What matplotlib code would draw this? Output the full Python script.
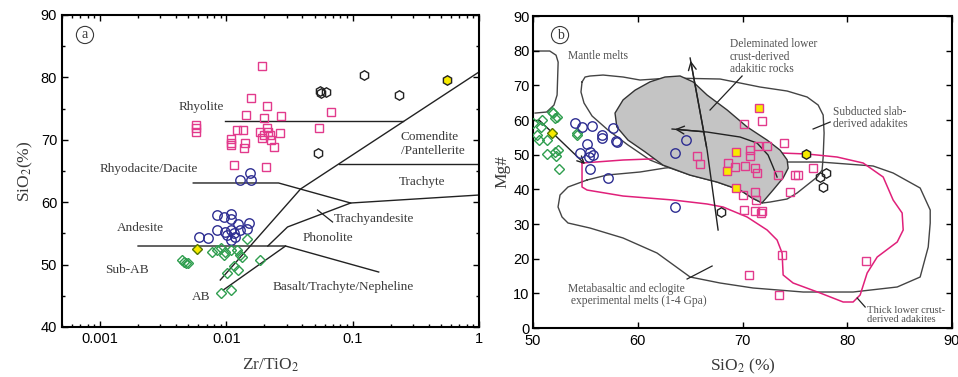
import numpy as np
import matplotlib
matplotlib.use('Agg')
import matplotlib.pyplot as plt

plt.rcParams['font.family'] = ['Liberation Sans', 'DejaVu Sans']
plt.rcParams['mathtext.fontset'] = 'stix'

# ---------------- Panel a data ----------------
a_sq_x = [0.019, 0.0158, 0.0211, 0.0144, 0.0197, 0.0273, 0.00578, 0.00578, 0.00578, 0.0122, 0.0136,
          0.0183, 0.0211, 0.0215, 0.0223, 0.0200, 0.0268, 0.0190, 0.0227, 0.0108, 0.0108, 0.0108,
          0.0141, 0.0139, 0.0239, 0.0114, 0.0207, 0.0668, 0.0537]
a_sq_y = [81.8, 76.7, 75.4, 74.0, 73.5, 73.8, 72.4, 71.9, 71.25, 71.6, 71.6, 71.25, 71.9, 71.25, 70.8,
          70.8, 71.1, 70.3, 70.0, 70.1, 69.5, 69.2, 69.5, 68.7, 68.8, 66.0, 65.6, 74.5, 71.9]
a_ci_x = [0.0155, 0.0129, 0.0158, 0.0085, 0.0095, 0.0108, 0.0108, 0.0124, 0.0152, 0.0146, 0.0085,
          0.0098, 0.0108, 0.0114, 0.0102, 0.0118, 0.0109, 0.0061, 0.0071, 0.0129]
a_ci_y = [64.7, 63.6, 63.6, 57.95, 57.6, 58.1, 57.3, 56.5, 56.7, 55.7, 55.5, 55.2, 55.5, 55.0, 54.7,
          54.4, 53.9, 54.4, 54.3, 55.5]
a_di_x = [0.00448, 0.00465, 0.00482, 0.0050, 0.0077, 0.0085, 0.0090, 0.0098, 0.0095, 0.0108, 0.0122,
          0.0129, 0.0134, 0.0146, 0.0186, 0.0114, 0.0124, 0.0102, 0.0091, 0.0108]
a_di_y = [50.7, 50.4, 50.3, 50.3, 52.0, 52.3, 52.7, 52.0, 51.5, 52.3, 52.3, 51.5, 51.2, 54.1, 50.7,
          49.8, 49.1, 48.6, 45.4, 45.9]
a_ydi_x, a_ydi_y = [0.00589], [52.5]
a_hx_x = [0.124, 0.055, 0.062, 0.056, 0.232, 0.0527]
a_hx_y = [80.4, 77.8, 77.7, 77.5, 77.2, 67.9]
a_yhx_x, a_yhx_y = [0.557], [79.6]

# boundary lines (Zr/TiO2, SiO2)
a_lines = [
    ([0.0098, 0.249], [73.0, 73.0]),                      # Rhyolite lower
    ([0.00895, 0.0387, 1.0], [47.53, 62.12, 80.87]),       # main diagonal
    ([0.0774, 1.0], [66.12, 66.12]),                       # Comendite / Trachyte
    ([0.00547, 0.0259, 0.0964, 1.0], [63.08, 63.08, 59.87, 61.15]),
    ([0.0964, 0.0305, 0.0213], [59.87, 56.03, 52.98]),     # Phonolite
    ([0.002, 0.0294, 0.1607], [52.98, 52.98, 48.81]),      # Andesite lower
    ([0.0294, 0.00946], [52.98, 45.93]),                   # AB / Basalt
]

# ---------------- Panel b data ----------------
b_di_x = [50.0, 50.4, 50.6, 50.9, 50.8, 51.3, 51.8, 52.1, 51.9, 52.3, 54.2, 54.2, 51.3, 52.2, 52.1, 52.5, 52.4]
b_di_y = [59.1, 55.7, 54.2, 60.0, 58.0, 54.2, 62.3, 60.6, 62.0, 60.9, 56.2, 55.7, 50.2, 49.6, 50.8, 45.9, 51.3]
b_ydi_x, b_ydi_y = [51.8], [56.2]
b_ci_x = [54.0, 54.7, 55.6, 57.6, 56.6, 56.6, 57.9, 58.0, 55.2, 54.5, 55.4, 55.7, 55.3, 55.4, 57.2, 63.6, 64.6, 63.6]
b_ci_y = [59.1, 58.0, 58.3, 57.7, 55.7, 54.8, 53.9, 53.6, 53.1, 50.5, 50.8, 49.9, 49.3, 45.9, 43.3, 50.5, 54.2, 34.9]
b_sq_x = [71.9, 70.1, 74.0, 70.7, 70.7, 71.5, 72.3, 65.7, 65.9, 68.6, 69.3, 70.2, 71.2, 71.4, 73.4, 75.0,
          75.3, 76.7, 70.0, 71.2, 71.3, 74.5, 70.1, 71.2, 71.8, 71.9, 73.8, 70.6, 73.5, 81.8]
b_sq_y = [59.7, 58.8, 53.4, 51.3, 49.6, 52.5, 52.5, 49.6, 47.3, 47.6, 46.4, 46.7, 46.1, 44.7, 44.1, 44.1,
          44.1, 46.1, 38.4, 39.2, 36.9, 39.2, 34.0, 33.7, 33.2, 33.7, 21.1, 15.3, 9.5, 19.3]
b_ysq_x = [71.6, 69.4, 68.5, 69.4]
b_ysq_y = [63.4, 50.8, 45.3, 40.4]
b_hx_x = [77.4, 78.0, 77.7, 67.9]
b_hx_y = [43.6, 44.7, 40.7, 33.5]
b_yhx_x, b_yhx_y = [76.1], [50.2]

mantle_x = [50.0, 51.6, 52.2, 52.4, 52.3, 52.0, 51.3, 50.2]
mantle_y = [79.9, 79.9, 78.7, 76.7, 67.2, 64.3, 62.3, 62.0]
slab_x = [54.68, 54.97, 55.44, 56.69, 58.6, 60.22, 63.09, 67.86, 69.77, 71.68, 74.26, 76.17, 77.22, 77.7,
          77.79, 77.7, 77.6, 77.13, 76.17, 75.21, 74.26, 72.64, 71.87, 70.92, 69.77, 67.57, 65.0, 63.09,
          61.17, 59.07, 57.16, 55.64, 54.87, 54.58, 54.68]
slab_y = [70.96, 72.4, 72.69, 72.97, 72.4, 71.53, 72.11, 71.82, 70.67, 69.51, 68.36, 66.63, 64.32, 61.44,
          56.24, 49.32, 45.57, 43.55, 41.25, 38.94, 37.21, 36.34, 36.05, 37.5, 39.8, 42.11, 44.13, 46.15,
          48.46, 52.78, 57.11, 61.15, 64.9, 68.07, 70.96]
meta_x = [55.16, 57.07, 60.22, 62.61, 65.96, 69.77, 74.26, 77.41, 82.47, 84.38, 86.96, 87.92, 87.92, 87.73,
          86.96, 84.77, 80.56, 75.79, 71.01, 67.86, 65.0, 61.84, 58.6, 55.44, 53.34, 52.77, 52.39, 52.58,
          53.34, 55.16]
meta_y = [42.69, 44.13, 45.0, 46.15, 47.01, 47.59, 47.88, 47.88, 46.73, 44.71, 40.38, 34.04, 30.29, 23.36,
          14.71, 11.83, 10.38, 10.38, 11.54, 12.98, 14.71, 21.63, 25.96, 28.84, 30.29, 32.02, 34.9, 38.36,
          40.67, 42.69]
thick_x = [54.68, 58.6, 61.17, 65.96, 73.59, 76.17, 79.03, 81.52, 83.43, 84.38, 85.24, 85.34, 84.77, 82.86,
           81.9, 81.23, 80.56, 79.61, 77.41, 74.83, 73.88, 73.78, 73.3, 72.35, 70.44, 68.15, 66.62, 63.37,
           58.6, 55.16, 54.68, 54.68]
thick_y = [47.59, 48.46, 48.75, 49.61, 50.48, 50.19, 49.32, 47.59, 43.55, 36.92, 33.17, 28.27, 24.81, 20.48,
           15.86, 9.52, 7.5, 7.5, 10.1, 12.98, 15.29, 21.63, 25.38, 28.27, 32.02, 34.9, 35.77, 36.92, 38.07,
           39.8, 40.67, 47.59]
delam_x = [57.83, 58.6, 59.74, 61.17, 62.6, 64.04, 65.28, 66.62, 68.53, 70.44, 72.35, 73.59, 74.26, 74.36,
           73.88, 72.92, 71.87, 70.92, 69.77, 67.57, 65.0, 62.4, 60.7, 59.07, 58.0]
delam_y = [62.0, 65.8, 68.6, 71.0, 72.4, 72.7, 71.0, 67.2, 62.9, 58.0, 54.2, 51.3, 48.5, 46.1, 43.3, 39.8,
           36.1, 37.5, 39.8, 42.1, 44.1, 47.0, 50.8, 54.2, 58.0]
vert_arrow_x = [67.67, 66.62, 65.0]
vert_arrow_y = [28.27, 51.34, 77.88]
curve_arrow_x = [73.3, 72.92, 72.44, 71.39, 69.77, 66.62, 63.28]
curve_arrow_y = [43.55, 46.44, 49.9, 53.36, 55.09, 56.53, 57.4]

PINK = '#e23a8c'
BLUE = '#2e2e92'
GREEN = '#2f9e4f'
YEL = '#f7ea00'
TXT = '#3a3a3a'
TXTB = '#505050'

fig = plt.figure(figsize=(9.58, 3.77), dpi=100)
axa = fig.add_axes([62/958, 1-327/377, 417/958, 312/377])
axb = fig.add_axes([533/958, 1-328/377, 419/958, 312/377])

ms = 6.3
mk = dict(ls='none', mfc='none', mew=1.0)

# ----- panel a -----
for xs, ys in a_lines:
    axa.plot(xs, ys, color='#222222', lw=1.0, zorder=2)
axa.plot([0.0527, 0.0693], [58.75, 56.83], color='#222222', lw=0.9)
axa.plot(a_sq_x, a_sq_y, marker='s', ms=ms, mec=PINK, **mk, zorder=3)
axa.plot(a_ci_x, a_ci_y, marker='o', ms=ms+0.5, mec=BLUE, **mk, zorder=3)
axa.plot(a_di_x, a_di_y, marker='D', ms=ms-0.8, mec=GREEN, **mk, zorder=3)
axa.plot(a_ydi_x, a_ydi_y, marker='D', ms=ms-0.8, mec='#557700', mfc=YEL, ls='none', mew=1.0, zorder=4)
axa.plot(a_hx_x, a_hx_y, marker='h', ms=ms+0.5, mec='#222222', **mk, zorder=3)
axa.plot(a_yhx_x, a_yhx_y, marker='h', ms=ms+0.5, mec='#222222', mfc=YEL, ls='none', mew=1.0, zorder=4)

axa.set_xscale('log')
axa.set_xlim(0.0005, 1)
axa.set_ylim(40, 90)
axa.set_xticks([0.001, 0.01, 0.1, 1])
axa.set_xticklabels(['0.001', '0.01', '0.1', '1'])
axa.set_yticks([40, 50, 60, 70, 80, 90])
axa.set_yticks([45, 55, 65, 75, 85], minor=True)

tf = dict(family='Liberation Serif', color=TXT, fontsize=9.5, va='center')
axa.text(0.00416, 75.26, 'Rhyolite', **tf)
axa.text(0.001, 65.32, 'Rhyodacite/Dacite', **tf)
axa.text(0.240, 69.33, 'Comendite\n/Pantellerite', linespacing=1.25, **tf)
axa.text(0.232, 63.24, 'Trachyte', **tf)
axa.text(0.071, 57.31, 'Trachyandesite', **tf)
axa.text(0.040, 54.26, 'Phonolite', **tf)
axa.text(0.0232, 46.41, 'Basalt/Trachyte/Nepheline', **tf)
axa.text(0.00136, 55.87, 'Andesite', **tf)
axa.text(0.0011, 49.13, 'Sub-AB', **tf)
axa.text(0.00537, 44.81, 'AB', **tf)
axa.text(0.00076, 86.8, 'a', family='Liberation Serif', fontsize=10, color=TXT, ha='center', va='center',
         bbox=dict(boxstyle='circle,pad=0.15', fc='none', ec=TXT, lw=0.8))
axa.set_xlabel('Zr/TiO$_2$', family='Liberation Serif', fontsize=12.5, color=TXT, labelpad=8)
axa.set_ylabel('SiO$_2$(%)', family='Liberation Serif', fontsize=12.5, color=TXT, labelpad=4)

# ----- panel b -----
lc = '#444444'
axb.plot(mantle_x, mantle_y, color=lc, lw=1.0, zorder=1)
axb.plot(slab_x, slab_y, color=lc, lw=1.0, zorder=1)
axb.plot(meta_x, meta_y, color=lc, lw=1.0, zorder=1)
axb.plot(thick_x, thick_y, color='#e0207a', lw=1.1, zorder=1.5)
axb.fill(delam_x, delam_y, fc='#c4c4c4', ec='#333333', lw=1.0, zorder=2)

axb.plot(vert_arrow_x, vert_arrow_y, color='#222222', lw=1.0, zorder=2.5)
axb.annotate('', xy=(vert_arrow_x[-1], vert_arrow_y[-1]), xytext=(vert_arrow_x[-2], vert_arrow_y[-2]),
             arrowprops=dict(arrowstyle='->', color='#222222', lw=1.0, mutation_scale=14), zorder=2.5)
axb.plot(curve_arrow_x, curve_arrow_y, color='#222222', lw=1.0, zorder=2.5)
axb.annotate('', xy=(curve_arrow_x[-1], curve_arrow_y[-1]), xytext=(curve_arrow_x[-2], curve_arrow_y[-2]),
             arrowprops=dict(arrowstyle='->', color='#222222', lw=1.0, mutation_scale=14), zorder=2.5)
axb.annotate('', xy=(55.16, 46.73), xytext=(50.38, 60.57),
             arrowprops=dict(arrowstyle='->', color='#222222', lw=1.0, mutation_scale=12), zorder=2.5)
# leader lines
for (x0, y0, x1, y1) in [(66.9, 62.88, 69.96, 72.69), (76.74, 57.4, 78.37, 59.42),
                         (64.71, 14.13, 67.1, 17.88), (80.95, 8.65, 81.71, 6.06)]:
    axb.plot([x0, x1], [y0, y1], color='#222222', lw=0.9, zorder=2.5)

axb.plot(b_di_x, b_di_y, marker='D', ms=ms-0.8, mec=GREEN, **mk, zorder=3)
axb.plot(b_ydi_x, b_ydi_y, marker='D', ms=ms-0.8, mec='#557700', mfc=YEL, ls='none', mew=1.0, zorder=4)
axb.plot(b_ci_x, b_ci_y, marker='o', ms=ms+0.5, mec=BLUE, **mk, zorder=3)
axb.plot(b_sq_x, b_sq_y, marker='s', ms=ms, mec=PINK, **mk, zorder=3)
axb.plot(b_ysq_x, b_ysq_y, marker='s', ms=ms, mec=PINK, mfc=YEL, ls='none', mew=1.0, zorder=4)
axb.plot(b_hx_x, b_hx_y, marker='h', ms=ms+0.5, mec='#222222', **mk, zorder=3)
axb.plot(b_yhx_x, b_yhx_y, marker='h', ms=ms+0.5, mec='#222222', mfc=YEL, ls='none', mew=1.0, zorder=4)

axb.set_xlim(50, 90)
axb.set_ylim(0, 90)
axb.set_xticks([50, 60, 70, 80, 90])
axb.set_yticks(range(0, 91, 10))

tb = dict(family='Liberation Serif', color=TXTB, fontsize=8.3, va='center')
axb.text(53.34, 78.45, 'Mantle melts', **tb)
axb.text(68.8, 78.2, 'Deleminated lower\ncrust-derived\nadakitic rocks', linespacing=1.05, **tb)
axb.text(78.65, 60.57, 'Subducted slab-\nderived adakites', linespacing=1.05, **tb)
axb.text(53.34, 9.52, 'Metabasaltic and eclogite\n experimental melts (1-4 Gpa)', linespacing=1.1, **tb)
axb.text(81.9, 3.75, 'Thick lower crust-\nderived adakites', linespacing=1.05,
         **{**tb, 'fontsize': 7.6})
axb.text(52.58, 84.5, 'b', family='Liberation Serif', fontsize=10, color=TXT, ha='center', va='center',
         bbox=dict(boxstyle='circle,pad=0.15', fc='none', ec=TXT, lw=0.8))
axb.set_xlabel('SiO$_2$ (%)', family='Liberation Serif', fontsize=12.5, color=TXT, labelpad=6)
axb.set_ylabel('Mg#', family='Liberation Serif', fontsize=12.5, color=TXT, labelpad=2)

for ax in (axa, axb):
    for s in ax.spines.values():
        s.set_linewidth(1.5)
    ax.tick_params(which='both', direction='in', top=True, right=True, labelsize=10.5, width=1.0)
    ax.tick_params(which='major', length=4.5)
    ax.tick_params(which='minor', length=2.5)
axb.tick_params(which='minor', top=False, bottom=False, left=False, right=False)
axb.tick_params(axis='y', pad=2.5)
axb.tick_params(axis='x', pad=4.5)

fig.savefig('out.png', dpi=100)
